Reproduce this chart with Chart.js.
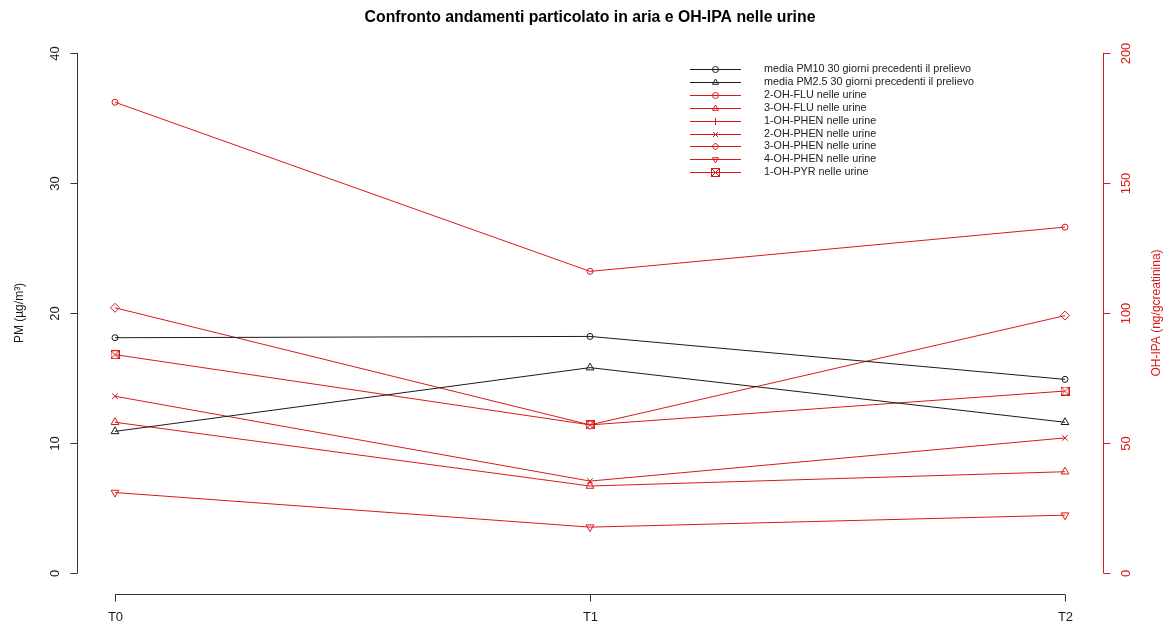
<!DOCTYPE html>
<html>
<head>
<meta charset="utf-8">
<title>Confronto andamenti particolato in aria e OH-IPA nelle urine</title>
<script src="https://cdn.jsdelivr.net/npm/chart.js@4.4.1/dist/chart.umd.min.js"></script>
<style>
  html, body { margin: 0; padding: 0; background: #fff; }
  #wrap { width: 1175px; height: 628px; position: relative; }
</style>
</head>
<body>
<div id="wrap"><canvas id="grafico"></canvas></div>
<script>
// dati
const tempi = ['T0', 'T1', 'T2'];

// PM (asse sinistro, µg/m3)
const pm10 = [18.1, 18.2, 14.9];
const pm25 = [10.9, 15.8, 11.6];

// OH-IPA (asse destro, ng/g creatinina)
const ohFlu2 = [181, 116, 133];
const ohFlu3 = [58, 33.5, 39];
const ohPhen1 = [null, null, null]; // non visibile nel grafico
const ohPhen2 = [68, 35.4, 52];
const ohPhen3 = [102, 57, 99];
const ohPhen4 = [31, 17.7, 22.3];
const ohPyr1 = [84, 57, 70];

const ticksPM = [0, 10, 20, 30, 40];
const ticksIPA = [0, 50, 100, 150, 200];

const NERO = '#1a1a1a';
const ROSSO = 'rgb(218, 24, 24)';
const FONT = '"Liberation Sans", Arial, sans-serif';

// quadrato con la x (pch 7 di R)
function quadratoX(colore) {
    const c = document.createElement('canvas');
    c.width = 9; c.height = 9;
    const g = c.getContext('2d');
    g.strokeStyle = colore;
    g.lineWidth = 1;
    g.strokeRect(0.5, 0.5, 8, 8);
    g.beginPath();
    g.moveTo(0.5, 0.5); g.lineTo(8.5, 8.5);
    g.moveTo(8.5, 0.5); g.lineTo(0.5, 8.5);
    g.stroke();
    return c;
}

const punti = (valori) => valori.map((v, i) => ({ x: i, y: v }));

function serie(label, valori, asse, colore, stile, raggio, rotazione) {
    return {
        label,
        data: punti(valori),
        yAxisID: asse,
        borderColor: colore,
        borderWidth: 1,
        pointStyle: stile,
        pointRadius: raggio,
        pointRotation: rotazione || 0,
        pointBorderColor: colore,
        pointBackgroundColor: 'rgba(0,0,0,0)',
        pointBorderWidth: 1,
        tension: 0,
        spanGaps: false
    };
}

const datasets = [
    serie('media PM10 30 giorni precedenti il prelievo', pm10, 'y', NERO, 'circle', 3),
    serie('media PM2.5 30 giorni precedenti il prelievo', pm25, 'y', NERO, 'triangle', 4.5),
    serie('2-OH-FLU nelle urine', ohFlu2, 'y2', ROSSO, 'circle', 3),
    serie('3-OH-FLU nelle urine', ohFlu3, 'y2', ROSSO, 'triangle', 4.5),
    serie('1-OH-PHEN nelle urine', ohPhen1, 'y2', ROSSO, 'cross', 4),
    serie('2-OH-PHEN nelle urine', ohPhen2, 'y2', ROSSO, 'crossRot', 4),
    serie('3-OH-PHEN nelle urine', ohPhen3, 'y2', ROSSO, 'rectRot', 4.5),
    serie('4-OH-PHEN nelle urine', ohPhen4, 'y2', ROSSO, 'triangle', 4.5, 180),
    serie('1-OH-PYR nelle urine', ohPyr1, 'y2', ROSSO, quadratoX(ROSSO), 4.5)
];

// assi, titoli e legenda disegnati "alla R" (assi staccati dall'area del grafico)
const stileR = {
    id: 'stileR',
    afterDraw(chart) {
        const { ctx, chartArea: area } = chart;
        const { x, y, y2 } = chart.scales;
        const px = (v) => Math.round(v) + 0.5;
        ctx.save();
        ctx.lineWidth = 1;

        const linea = (x1, y1, x2, y3) => {
            ctx.beginPath(); ctx.moveTo(x1, y1); ctx.lineTo(x2, y3); ctx.stroke();
        };
        const testoV = (t, cx, cy) => {
            ctx.save();
            ctx.translate(cx, cy);
            ctx.rotate(-Math.PI / 2);
            ctx.fillText(t, 0, 0);
            ctx.restore();
        };

        // asse x
        const xb = px(area.bottom);
        ctx.strokeStyle = '#333';
        linea(x.getPixelForValue(0), xb, x.getPixelForValue(tempi.length - 1), xb);
        ctx.fillStyle = NERO;
        ctx.font = '13px ' + FONT;
        ctx.textAlign = 'center';
        ctx.textBaseline = 'middle';
        tempi.forEach((t, i) => {
            const xx = px(x.getPixelForValue(i));
            linea(xx, xb, xx, xb + 7);
            ctx.fillText(t, xx, xb + 23);
        });

        // asse sinistro (PM)
        const xl = px(area.left);
        linea(xl, y.getPixelForValue(0), xl, y.getPixelForValue(40));
        ctx.font = '13px ' + FONT;
        ticksPM.forEach(v => {
            const yy = px(y.getPixelForValue(v));
            linea(xl - 7, yy, xl, yy);
            testoV(String(v), xl - 22, yy);
        });
        ctx.font = '12px ' + FONT;
        testoV('PM (µg/m³)', 20, (area.top + area.bottom) / 2);

        // asse destro (OH-IPA)
        const xr = px(area.right);
        ctx.strokeStyle = ROSSO;
        ctx.fillStyle = ROSSO;
        linea(xr, y2.getPixelForValue(0), xr, y2.getPixelForValue(200));
        ctx.font = '13px ' + FONT;
        ticksIPA.forEach(v => {
            const yy = px(y2.getPixelForValue(v));
            linea(xr, yy, xr + 7, yy);
            testoV(String(v), xr + 23, yy);
        });
        ctx.font = '12px ' + FONT;
        testoV('OH-IPA (ng/gcreatinina)', 1157, (area.top + area.bottom) / 2);

        // titolo
        ctx.fillStyle = '#000';
        ctx.font = 'bold 15.8px ' + FONT;
        ctx.fillText('Confronto andamenti particolato in aria e OH-IPA nelle urine',
            (area.left + area.right) / 2, 18);

        // legenda senza bordo
        ctx.font = '10.8px ' + FONT;
        ctx.textAlign = 'left';
        chart.data.datasets.forEach((ds, i) => {
            const yy = px(69 + i * 12.9);
            ctx.strokeStyle = ds.borderColor;
            linea(690, yy, 741, yy);
            ctx.fillStyle = 'rgba(0,0,0,0)';
            Chart.helpers.drawPoint(ctx, {
                pointStyle: ds.pointStyle,
                radius: Math.min(ds.pointRadius, 3.5),
                rotation: ds.pointRotation,
                borderWidth: 1
            }, 715.5, yy);
            ctx.fillStyle = '#222';
            ctx.fillText(ds.label, 764, yy);
        });

        ctx.restore();
    }
};

new Chart(document.getElementById('grafico'), {
    type: 'line',
    data: { datasets },
    options: {
        responsive: true,
        maintainAspectRatio: false,
        animation: false,
        events: [],
        layout: { padding: { left: 77, right: 72, top: 32, bottom: 34 } },
        scales: {
            x: { type: 'linear', min: -0.08, max: 2.08, display: false },
            y: { type: 'linear', min: -1.6, max: 41.6, display: false },
            y2: { type: 'linear', min: -8, max: 208, display: false, position: 'right' }
        },
        plugins: {
            legend: { display: false },
            title: { display: false },
            tooltip: { enabled: false }
        }
    },
    plugins: [stileR]
});
</script>
</body>
</html>
